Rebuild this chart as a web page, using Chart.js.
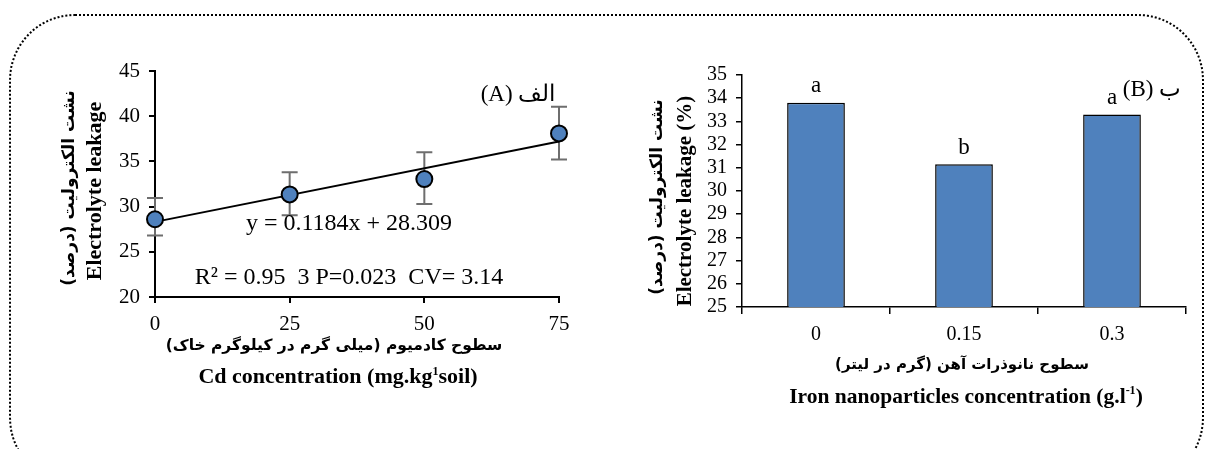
<!DOCTYPE html>
<html>
<head>
<meta charset="utf-8">
<script src="https://cdn.jsdelivr.net/npm/chart.js@4.4.1/dist/chart.umd.min.js"></script>
<style>
  html, body { margin: 0; padding: 0; background: #fff; overflow: hidden; }
  #wrap { position: relative; width: 1208px; height: 449px; overflow: hidden; }
  #frame { position: absolute; left: 9px; top: 14px; width: 1195px; height: 470px;
           border: 2px dotted #000; border-radius: 66px; box-sizing: border-box; }
  canvas { position: absolute; top: 0; }
  .t { position: absolute; white-space: nowrap; color: #000; transform: translate(-50%, -50%); }
  .serif { font-family: 'Liberation Serif', 'Times New Roman', serif; }
  .fa { font-family: 'DejaVu Sans', sans-serif; font-weight: bold; }
  .rot { transform: translate(-50%, -50%) rotate(-90deg); }
</style>
</head>
<body>
<div id="wrap">
  <div id="frame"></div>
  <canvas id="cdChart" width="600" height="449" style="left:0"></canvas>
  <canvas id="feChart" width="608" height="449" style="left:600px"></canvas>

  <!-- panel A texts -->
  <div class="t serif" style="left:349px;top:222px;font-size:24px">y = 0.1184x + 28.309</div>
  <div class="t serif" style="left:349px;top:276px;font-size:24px">R² = 0.95&nbsp; 3 P=0.023&nbsp; CV= 3.14</div>
  <div class="t serif" dir="ltr" style="left:518px;top:93px;font-size:23px">(A) الف</div>
  <div class="t fa" dir="rtl" style="left:334px;top:345px;font-size:15.5px">سطوح کادمیوم (میلی گرم در کیلوگرم خاک)</div>
  <div class="t serif" style="left:338px;top:376px;font-size:22px;font-weight:bold">Cd concentration (mg.kg<sup style="font-size:12px">1</sup>soil)</div>
  <div class="t fa rot" dir="rtl" style="left:68px;top:188px;font-size:17px">نشت الکترولیت (درصد)</div>
  <div class="t serif rot" style="left:94px;top:191px;font-size:22px;font-weight:bold">Electrolyte leakage</div>

  <!-- panel B texts -->
  <div class="t serif" dir="ltr" style="left:1152px;top:88px;font-size:23px">(B) ب</div>
  <div class="t fa" dir="rtl" style="left:962px;top:364px;font-size:15px">سطوح نانوذرات آهن (گرم در لیتر)</div>
  <div class="t serif" style="left:966px;top:396px;font-size:21.5px;font-weight:bold">Iron nanoparticles concentration (g.l<sup style="font-size:12px">-1</sup>)</div>
  <div class="t fa rot" dir="rtl" style="left:656px;top:197px;font-size:17px">نشت الکترولیت (درصد)</div>
  <div class="t serif rot" style="left:684px;top:201px;font-size:21px;font-weight:bold">Electrolyte leakage (%)</div>
</div>

<script>
// ---- panel A: Cd concentration vs electrolyte leakage ----
const cdLevels = [0, 25, 50, 75];
const cdLeakage = [28.6, 31.35, 33.05, 38.1];
const cdErrLow = [26.8, 29.05, 30.3, 35.2];
const cdErrHigh = [30.95, 33.8, 36.0, 41.05];
const trendX = [0, 75];
const trendY = [28.31, 37.19];

// ---- panel B: iron nanoparticles vs electrolyte leakage ----
const feLevels = ['0', '0.15', '0.3'];
const feLeakage = [33.8, 31.15, 33.3];
const feLetters = ['a', 'b', 'a'];

const serif = "'Liberation Serif', 'Times New Roman', serif";

// error bars drawn under the points
const errorBars = {
    id: 'errorBars',
    beforeDatasetsDraw(chart) {
        const ctx = chart.ctx;
        const xs = chart.scales.x, ys = chart.scales.y;
        ctx.save();
        ctx.strokeStyle = '#6e6e6e';
        ctx.lineWidth = 2;
        cdLevels.forEach((lv, i) => {
            const x = xs.getPixelForValue(lv);
            const y1 = ys.getPixelForValue(cdErrLow[i]);
            const y2 = ys.getPixelForValue(cdErrHigh[i]);
            ctx.beginPath();
            ctx.moveTo(x, y1); ctx.lineTo(x, y2);
            ctx.moveTo(x - 8, y1); ctx.lineTo(x + 8, y1);
            ctx.moveTo(x - 8, y2); ctx.lineTo(x + 8, y2);
            ctx.stroke();
        });
        ctx.restore();
    }
};

// letters of mean comparison above bars
const barLetters = {
    id: 'barLetters',
    afterDatasetsDraw(chart) {
        const ctx = chart.ctx;
        const bars = chart.getDatasetMeta(0).data;
        ctx.save();
        ctx.fillStyle = '#000';
        ctx.font = '23px ' + serif;
        ctx.textAlign = 'center';
        ctx.textBaseline = 'bottom';
        bars.forEach((b, i) => ctx.fillText(feLetters[i], b.x, b.y - 5));
        ctx.restore();
    }
};

Chart.defaults.font.family = serif;
Chart.defaults.color = '#000';

new Chart(document.getElementById('cdChart'), {
    type: 'scatter',
    data: {
        datasets: [
            {
                data: cdLevels.map((x, i) => ({ x: x, y: cdLeakage[i] })),
                pointRadius: 8,
                pointBackgroundColor: '#4f81bd',
                pointBorderColor: '#000',
                pointBorderWidth: 2,
                clip: false
            },
            {
                type: 'line',
                data: trendX.map((x, i) => ({ x: x, y: trendY[i] })),
                borderColor: '#000',
                borderWidth: 2,
                pointRadius: 0,
                clip: false
            }
        ]
    },
    options: {
        responsive: false,
        animation: false,
        devicePixelRatio: 1,
        layout: { padding: { left: 115, right: 41, top: 71, bottom: 112 } },
        plugins: { legend: { display: false }, tooltip: { enabled: false } },
        scales: {
            x: {
                type: 'linear', min: 0, max: 75,
                afterFit: s => { s.height = 40; },
                ticks: { stepSize: 25, font: { size: 21 }, padding: 9 },
                grid: { drawOnChartArea: false, color: '#000', tickLength: 6, lineWidth: 2 },
                border: { color: '#000', width: 2 }
            },
            y: {
                min: 20, max: 45,
                afterFit: s => { s.width = 40; },
                ticks: { stepSize: 5, font: { size: 21 }, padding: 9 },
                grid: { drawOnChartArea: false, color: '#000', tickLength: 6, lineWidth: 2 },
                border: { color: '#000', width: 2 }
            }
        }
    },
    plugins: [errorBars]
});

new Chart(document.getElementById('feChart'), {
    type: 'bar',
    data: {
        labels: feLevels,
        datasets: [{
            data: feLeakage,
            backgroundColor: '#4f81bd',
            borderColor: '#000',
            borderWidth: 1.5,
            categoryPercentage: 1,
            barPercentage: 0.39
        }]
    },
    options: {
        responsive: false,
        animation: false,
        devicePixelRatio: 1,
        layout: { padding: { left: 102, right: 22, top: 75, bottom: 102 } },
        plugins: { legend: { display: false }, tooltip: { enabled: false } },
        scales: {
            x: {
                afterFit: s => { s.height = 40; },
                ticks: { font: { size: 20 }, padding: 9 },
                grid: { drawOnChartArea: false, color: '#000', tickLength: 7, lineWidth: 1.5 },
                border: { color: '#000', width: 1.5 }
            },
            y: {
                min: 25, max: 35,
                afterFit: s => { s.width = 40; },
                ticks: { stepSize: 1, autoSkip: false, font: { size: 20 }, padding: 9 },
                grid: { drawOnChartArea: false, color: '#000', tickLength: 6, lineWidth: 1.5 },
                border: { color: '#000', width: 1.5 }
            }
        }
    },
    plugins: [barLetters]
});
</script>
</body>
</html>
